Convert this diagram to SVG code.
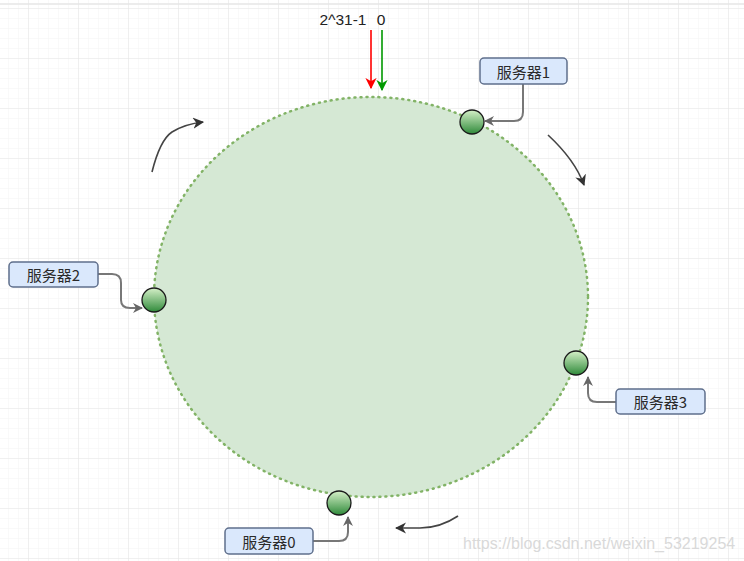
<svg xmlns="http://www.w3.org/2000/svg" width="744" height="561" viewBox="0 0 744 561">
<defs>
<pattern id="minor" x="8" y="8" width="10" height="10" patternUnits="userSpaceOnUse"><path d="M0 0V10M0 0H10" fill="none" stroke="#f3f3f3" stroke-width="1"/></pattern>
<pattern id="major" x="28" y="8" width="50" height="50" patternUnits="userSpaceOnUse"><path d="M0 0V50M0 0H50" fill="none" stroke="#e8e8e8" stroke-width="1.2"/></pattern>
<linearGradient id="node" x1="0" y1="0" x2="0" y2="1"><stop offset="0" stop-color="#d5f0c8"/><stop offset="1" stop-color="#2f8a3a"/></linearGradient>
<marker id="ah" viewBox="0 0 10 10" refX="9" refY="5" markerWidth="5" markerHeight="5" orient="auto" markerUnits="strokeWidth"><path d="M0 0L10 5L0 10L3 5Z" fill="#666"/></marker>
<marker id="ahd" viewBox="0 0 10 10" refX="9" refY="5" markerWidth="7" markerHeight="7" orient="auto" markerUnits="strokeWidth"><path d="M0 0L10 5L0 10L3 5Z" fill="#333"/></marker>
<marker id="ahr" viewBox="0 0 10 10" refX="9" refY="5" markerWidth="7" markerHeight="7" orient="auto" markerUnits="strokeWidth"><path d="M0 0L10 5L0 10L3 5Z" fill="#ff0000"/></marker>
<marker id="ahg" viewBox="0 0 10 10" refX="9" refY="5" markerWidth="7" markerHeight="7" orient="auto" markerUnits="strokeWidth"><path d="M0 0L10 5L0 10L3 5Z" fill="#009900"/></marker>
</defs>
<style>
.lbl rect{fill:#dae8fc;stroke:#5f6f8c;stroke-width:1.5}
.lbl text{font-family:"Noto Sans CJK SC","Liberation Sans",sans-serif;font-size:15px;fill:#2a2a2a;text-anchor:middle;dominant-baseline:central}
.srv{fill:url(#node);stroke:#1a1a1a;stroke-width:1.3}
.conn path{fill:none;stroke:#777;stroke-width:2;marker-end:url(#ah)}
.rot{fill:none;stroke:#444;stroke-width:1.6;marker-end:url(#ahd)}
</style>
<rect width="744" height="561" fill="#fff"/>
<rect width="744" height="561" fill="url(#minor)"/>
<rect width="744" height="561" fill="url(#major)"/>
<line x1="0" y1="4" x2="744" y2="4" stroke="#e6e6e6" stroke-width="1.5"/>
<g id="ring"><ellipse cx="371" cy="297" rx="217" ry="200" fill="#d5e8d4" stroke="#82b366" stroke-width="2.5" stroke-dasharray="1 5" stroke-linecap="round"/></g>
<g id="top-labels">
<text x="343" y="19" font-family="Liberation Sans,sans-serif" font-size="15.5" fill="#222" text-anchor="middle" dominant-baseline="central">2^31-1</text>
<text x="381" y="19" font-family="Liberation Sans,sans-serif" font-size="15.5" fill="#222" text-anchor="middle" dominant-baseline="central">0</text>
</g>
<g id="connectors">
<line x1="371" y1="30" x2="371" y2="88" stroke="#ff0000" stroke-width="1.6" marker-end="url(#ahr)"/>
<line x1="382" y1="30" x2="382" y2="90" stroke="#009900" stroke-width="1.6" marker-end="url(#ahg)"/>
<g class="conn">
<path d="M523 84V112Q523 121 514 121H485"/>
<path d="M98 274H112Q121 274 121 283V300Q121 308 130 308H142"/>
<path d="M616 402H597Q588 402 588 393V377"/>
<path d="M313 541H339Q348 541 348 532V517"/>
</g>
<path class="rot" d="M152 172Q160 140 172 132Q185 124 203 122"/>
<path class="rot" d="M548 135Q575 160 584 185"/>
<path class="rot" d="M458 516Q440 528 420 528Q408 528 396 528"/>
</g>
<g id="server1"><circle class="srv" cx="472" cy="122" r="12"/></g>
<g id="server2"><circle class="srv" cx="154" cy="300" r="12"/></g>
<g id="server3"><circle class="srv" cx="576" cy="363" r="12"/></g>
<g id="server0"><circle class="srv" cx="339" cy="503" r="12"/></g>
<g id="label1" class="lbl"><rect x="480" y="58" width="87" height="26" rx="4"/><text x="523.5" y="71">服务器1</text></g>
<g id="label2" class="lbl"><rect x="9" y="262" width="89" height="25" rx="4"/><text x="53.5" y="274.5">服务器2</text></g>
<g id="label3" class="lbl"><rect x="616" y="389" width="89" height="25" rx="4"/><text x="660.5" y="401.5">服务器3</text></g>
<g id="label0" class="lbl"><rect x="225" y="528" width="88" height="26" rx="4"/><text x="269" y="541">服务器0</text></g>
<text x="463" y="543" font-family="Liberation Sans,sans-serif" font-size="16" fill="#d9d9d9" dominant-baseline="central">https://blog.csdn.net/weixin_53219254</text>
</svg>
